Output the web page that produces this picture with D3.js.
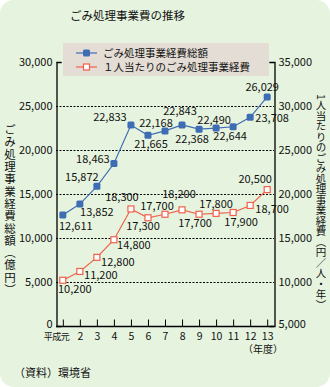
<!DOCTYPE html>
<html>
<head>
<meta charset="utf-8">
<script src="https://cdn.jsdelivr.net/npm/d3@7"></script>
<style>
  body { margin: 0; background: #fff; }
  text { font-family: "Noto Sans CJK JP", sans-serif; fill: #111; }
</style>
</head>
<body>
<svg id="chart" width="330" height="387"></svg>
<script>
// data
const years = ["平成元", "2", "3", "4", "5", "6", "7", "8", "9", "10", "11", "12", "13"];
const totalCost = [12611, 13852, 15872, 18463, 22833, 21665, 22168, 22843, 22368, 22490, 22644, 23708, 26029];
const perCapita = [10200, 11200, 12800, 14800, 18300, 17300, 17700, 18200, 17700, 17800, 17900, 18700, 20500];
const leftTicks = [0, 5000, 10000, 15000, 20000, 25000, 30000];
const rightTicks = [5000, 10000, 15000, 20000, 25000, 30000, 35000];
// label offsets [dx, dy] relative to the point
const totalLabelPos = [[13, 11], [17, 8], [-15, -9], [-21, -4], [-21, -8], [3, 9], [-9, -8], [-2, -14], [-7, 10], [-2, -8], [-3, 9], [22, 1], [-5, -10]];
const perLabelPos = [[12, 9], [21, 4], [21, 5], [20, 5], [-9, -12], [-5, 8], [-8, -8], [-3, -16], [-4, 9], [0, -9], [8, 10], [22, 4], [-12, -10]];

const blue = "#3f6db4", red = "#f0604a";
const svg = d3.select("#chart");

//Background panel
svg.append("rect").attr("x", 0).attr("y", 0).attr("width", 330).attr("height", 387)
  .attr("rx", 14).attr("fill", "#e6f4df");

//Scales
const x = d3.scalePoint().domain(years).range([56, 274]).padding(0.4);
const yL = d3.scaleLinear().domain([0, 30000]).range([326, 62]);
const yR = d3.scaleLinear().domain([5000, 35000]).range([326, 62]);
const fmt = d3.format(",");

svg.append("text").attr("x", 70).attr("y", 20).attr("font-size", 11.5).text("ごみ処理事業費の推移");

//Grid lines
svg.append("g").selectAll("line").data(leftTicks.filter(d => d > 0 && d < 30000)).join("line")
  .attr("x1", 56).attr("x2", 274).attr("y1", d => yL(d) + 0.5).attr("y2", d => yL(d) + 0.5)
  .attr("stroke", "#000").attr("stroke-dasharray", "2,1.5");

//Axes
const axL = svg.append("g").attr("transform", "translate(56.5,0)")
  .call(d3.axisLeft(yL).tickValues(leftTicks).tickFormat(fmt).tickSize(-5).tickPadding(4));
const axR = svg.append("g").attr("transform", "translate(274.5,0)")
  .call(d3.axisRight(yR).tickValues(rightTicks).tickFormat(fmt).tickSize(-5).tickPadding(4));
const axB = svg.append("g").attr("transform", "translate(0,326.5)")
  .call(d3.axisBottom(x).tickSize(-7).tickPadding(4));
[axL, axR, axB].forEach(a => {
  a.select(".domain").attr("stroke", "#000").attr("stroke-width", 1.3);
  a.selectAll(".tick line").attr("stroke", "#000");
  a.selectAll(".tick text").attr("font-family", "\"Noto Sans CJK JP\", sans-serif").attr("font-size", 11).attr("fill", "#111");
});
axL.selectAll(".tick line").filter(d => d !== 30000).remove();
axR.selectAll(".tick line").filter(d => d !== 35000 && d !== 5000).remove();
axB.select(".domain").attr("d", "M56,0H274");
axB.selectAll(".tick text").attr("y", 13).attr("dy", 0).attr("font-size", 10.5);
axB.selectAll(".tick").filter(d => d === "平成元").select("text")
  .attr("text-anchor", "end").attr("x", 6).attr("font-size", 9).attr("letter-spacing", -0.5);
axL.selectAll(".tick").filter(d => d === 0).select("text").attr("dy", "0.1em");
axR.selectAll(".tick").filter(d => d === 5000).select("text").attr("dy", "0.1em");

svg.append("text").attr("x", 283).attr("y", 353).attr("font-size", 10).attr("text-anchor", "end").text("（年度）");

//Axis titles
svg.append("text").attr("transform", "translate(10,124)").style("writing-mode", "vertical-rl")
  .attr("font-size", 11.5).attr("letter-spacing", 0.8).text("ごみ処理事業経費総額（億円）");
svg.append("text").attr("transform", "translate(321,94)").style("writing-mode", "vertical-rl")
  .attr("font-size", 10.5).text("1人当たりのごみ処理事業経費（円／人・年）");

//Lines
const lineL = d3.line().x((d, i) => x(years[i])).y(d => yL(d));
const lineR = d3.line().x((d, i) => x(years[i])).y(d => yR(d));
svg.append("path").datum(totalCost).attr("d", lineL).attr("fill", "none").attr("stroke", blue).attr("stroke-width", 1.2);
svg.append("path").datum(perCapita).attr("d", lineR).attr("fill", "none").attr("stroke", red).attr("stroke-width", 1.2);

svg.append("g").selectAll("rect").data(totalCost).join("rect")
  .attr("x", (d, i) => x(years[i]) - 3.5).attr("y", d => yL(d) - 3.5).attr("width", 7).attr("height", 7)
  .attr("rx", 1.5).attr("fill", blue);
svg.append("g").selectAll("rect").data(perCapita).join("rect")
  .attr("x", (d, i) => x(years[i]) - 3).attr("y", d => yR(d) - 3).attr("width", 6).attr("height", 6)
  .attr("fill", "#fff").attr("stroke", red).attr("stroke-width", 1.2);

//Value labels
svg.append("g").selectAll("text").data(totalCost).join("text")
  .attr("x", (d, i) => x(years[i]) + totalLabelPos[i][0]).attr("y", (d, i) => yL(d) + totalLabelPos[i][1])
  .attr("dy", "0.35em").attr("text-anchor", "middle").attr("font-size", 11).text(fmt);
svg.append("g").selectAll("text").data(perCapita).join("text")
  .attr("x", (d, i) => x(years[i]) + perLabelPos[i][0]).attr("y", (d, i) => yR(d) + perLabelPos[i][1])
  .attr("dy", "0.35em").attr("text-anchor", "middle").attr("font-size", 11).text(fmt);

//Legend
const lg = svg.append("g");
lg.append("rect").attr("x", 63).attr("y", 43).attr("width", 206).attr("height", 33).attr("fill", "#e3ddd5");
const items = [["ごみ処理事業経費総額", blue, true], ["１人当たりのごみ処理事業経費", red, false]];
items.forEach((it, i) => {
  const cy = 53 + i * 14;
  lg.append("line").attr("x1", 76).attr("x2", 97).attr("y1", cy).attr("y2", cy).attr("stroke", it[1]).attr("stroke-width", 1.2);
  if (it[2]) lg.append("rect").attr("x", 83).attr("y", cy - 3.5).attr("width", 7).attr("height", 7).attr("rx", 1.5).attr("fill", it[1]);
  else lg.append("rect").attr("x", 83.5).attr("y", cy - 3).attr("width", 6).attr("height", 6).attr("fill", "#fff").attr("stroke", it[1]).attr("stroke-width", 1.2);
  lg.append("text").attr("x", 103).attr("y", cy).attr("dy", "0.35em").attr("font-size", 10.5).text(it[0]);
});

svg.append("text").attr("x", 14).attr("y", 377).attr("font-size", 11).text("（資料）環境省");
</script>
</body>
</html>
